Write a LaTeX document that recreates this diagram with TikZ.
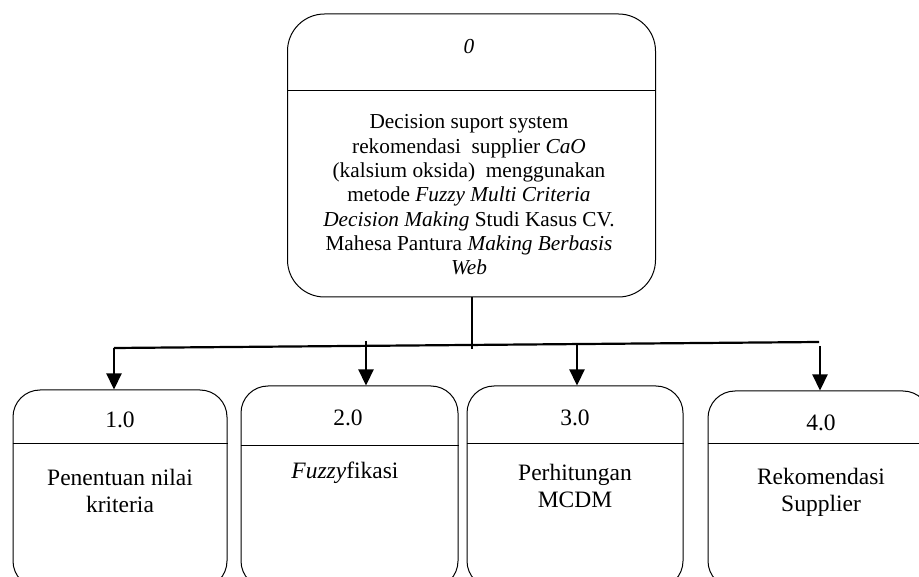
\documentclass[tikz,border=0pt]{standalone}
\usepackage{fontspec}
\setmainfont{Liberation Serif}
\usetikzlibrary{arrows.meta,calc}
\begin{document}
\begin{tikzpicture}[x=1pt,y=-1pt,
  procbox/.style={draw, line width=1pt, rounded corners=#1, inner sep=0pt},
  divider/.style={line width=1.8pt},
  stemline/.style={line width=2.2pt},
  busline/.style={line width=2.2pt},
  flow/.style={line width=2.2pt, -{Triangle[width=15pt,length=16pt]}},
  toptext/.style={inner sep=0pt, align=center, font=\fontsize{21.3}{24.3}\selectfont},
  subtext/.style={inner sep=0pt, align=center, font=\fontsize{23.5}{27}\selectfont}]
\useasboundingbox (0,0) rectangle (919,577);
\clip (0,0) rectangle (919,577);

% main process box
\node[procbox=37pt, minimum width=368pt, minimum height=283pt] (p0) at (471.5,155.5) {};
\draw[divider] ($(p0.north west)+(0,77)$) -- ($(p0.north east)+(0,77)$);
\node[toptext, font=\fontsize{21.3}{24.3}\selectfont\itshape] (n0) at (469,47) {0};
\node[toptext] (t0) at (469,195) {Decision suport system\\
  rekomendasi\ \ supplier \textit{CaO}\\
  (kalsium oksida)\ \ menggunakan\\
  metode \textit{Fuzzy Multi Criteria}\\
  \textit{Decision Making} Studi Kasus CV.\\
  Mahesa Pantura \textit{Making Berbasis}\\
  \textit{Web}};

% sub-process boxes
\node[procbox=27pt, minimum width=214pt, minimum height=198pt] (p1) at (120,489) {};
\node[procbox=27pt, minimum width=217pt, minimum height=202pt] (p2) at (349.5,487) {};
\node[procbox=27pt, minimum width=216pt, minimum height=202pt] (p3) at (575,487) {};
\node[procbox=27pt, minimum width=222pt, minimum height=197pt] (p4) at (819,489.5) {};
\draw[divider] ($(p1.north west)+(0,54)$) -- ($(p1.north east)+(0,54)$);
\draw[divider] ($(p2.north west)+(0,60)$) -- ($(p2.north east)+(0,60)$);
\draw[divider] ($(p3.north west)+(0,58)$) -- ($(p3.north east)+(0,58)$);
\draw[divider] ($(p4.north west)+(0,53)$) -- ($(p4.north east)+(0,53)$);

\node[subtext] (n1) at (120,420) {1.0};
\node[subtext] (n2) at (348,418) {2.0};
\node[subtext] (n3) at (575,418) {3.0};
\node[subtext] (n4) at (821,423) {4.0};
\node[subtext] (t1) at (120,491) {Penentuan nilai\\kriteria};
\node[subtext] (t2) at (345,473) {\textit{Fuzzy}fikasi};
\node[subtext] (t3) at (575,486) {Perhitungan\\MCDM};
\node[subtext] (t4) at (821,492) {Rekomendasi\\Supplier};

% connectors
\coordinate (stemend) at (472,349);
\coordinate (busL) at (114,348);
\coordinate (busR) at (819,342);
\coordinate (a2) at (366,341);
\coordinate (a3) at (577,345);
\coordinate (a4) at (820,346);
\draw[stemline] (p0.south -| stemend) -- (stemend);
\draw[busline] (busL) -- (busR);
\draw[flow] (busL) -- (busL |- p1.north);
\draw[flow] (a2) -- (a2 |- p2.north);
\draw[flow] (a3) -- (a3 |- p3.north);
\draw[flow] (a4) -- (a4 |- p4.north);
\end{tikzpicture}
\end{document}
